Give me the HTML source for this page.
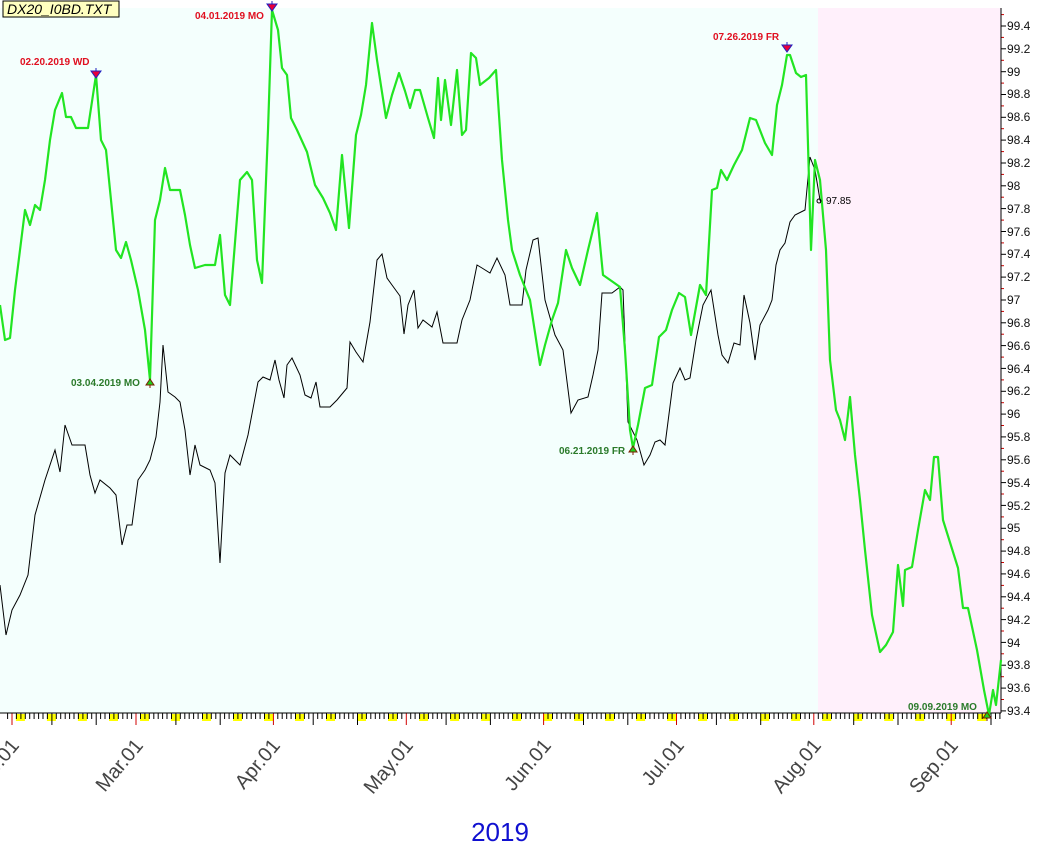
<!DOCTYPE html>
<html><head><meta charset="utf-8"><style>
html,body{margin:0;padding:0;background:#fff;width:1063px;height:849px;overflow:hidden}
svg{display:block;font-family:"Liberation Sans",sans-serif}
</style></head><body>
<svg id="s" width="1063" height="849" xmlns="http://www.w3.org/2000/svg">
<rect x="0" y="8" width="818" height="705" fill="#f4fffd"/>
<rect x="818" y="8" width="183" height="705" fill="#fff0fb"/>
<g id="ticks"></g>
<line x1="1001" y1="8" x2="1001" y2="713" stroke="#000"/>
<line x1="0" y1="713" x2="1001" y2="713" stroke="#000"/>
<polyline fill="none" stroke="#000" stroke-width="1" points="0,585 6,635 12,610 20,595 28,575 35,515 45,480 55,450 60,472 65,425 72,445 85,445 90,475 95,493 100,480 110,488 116,495 122,545 127,525 132,525 138,480 145,470 150,460 156,437 160,402 163,345 168,392 175,397 180,402 185,430 190,475 195,445 200,465 210,470 215,483 220,563 225,473 230,455 240,465 248,435 258,382 263,377 270,380 275,360 279,380 284,398 287,365 292,358 300,375 305,395 311,398 316,382 320,407 330,407 337,400 347,388 350,342 356,352 363,362 370,322 377,260 382,254 387,278 392,285 400,296 404,334 408,305 414,290 418,328 423,320 432,327 437,312 443,343 457,343 462,320 470,300 477,265 482,268 490,273 497,258 505,275 510,305 522,305 526,270 533,240 538,238 545,300 555,335 563,350 571,413 578,400 588,397 593,375 598,350 602,293 612,293 620,287 623,290 628,422 637,440 644,465 650,455 655,442 660,440 665,445 673,383 680,368 685,380 690,378 696,340 703,305 711,290 718,335 722,355 728,363 734,343 740,345 744,295 750,323 755,360 760,325 768,310 772,300 776,265 780,250 785,243 790,222 795,215 805,210 810,157 815,170 820,200 822,205"/>
<polyline fill="none" stroke="#22e522" stroke-width="2.2" stroke-linejoin="round" points="0,305 5,340 10,338 15,290 20,250 25,210 30,225 35,205 40,210 45,180 50,140 55,110 62,93 66,117 71,117 76,128 88,128 96,75 101,140 106,150 111,200 116,250 121,258 126,242 131,260 138,290 145,330 150,380 155,220 160,200 165,168 170,190 180,190 185,215 190,245 195,268 205,265 215,265 220,235 225,295 230,305 240,180 247,172 252,180 257,260 262,283 268,130 272,10 278,30 282,68 287,75 291,118 297,130 307,152 315,185 323,198 330,213 336,230 342,155 349,228 356,135 361,115 366,85 372,23 377,60 386,118 392,95 399,73 405,91 410,108 415,90 420,90 428,118 434,138 438,78 441,120 445,80 451,125 457,70 462,135 466,130 471,53 476,58 480,85 489,78 496,70 502,160 508,220 512,250 520,275 530,300 540,365 545,345 552,320 558,303 566,250 572,268 580,285 588,250 597,213 603,275 613,282 620,287 625,350 630,430 633,448 638,425 645,388 652,385 659,337 666,330 672,310 679,293 685,297 691,335 700,285 706,295 712,190 717,188 721,170 727,180 734,165 742,150 750,118 756,120 765,143 772,155 777,105 782,85 787,55 790,55 796,73 801,77 806,75 811,250 815,160 820,180 826,250 830,360 836,410 840,420 845,440 850,397 855,455 860,500 865,550 872,615 880,652 886,645 893,632 898,565 903,606 905,570 912,567 918,530 925,490 930,500 934,457 938,457 943,520 958,568 963,608 968,608 977,650 984,690 989,715 993,690 996,705 1001,660"/>
<circle cx="819" cy="201" r="2" fill="none" stroke="#000"/>
<text x="826" y="204" font-size="10" fill="#000">97.85</text>
<g fill="#e8003a" stroke="#2020c0" stroke-width="1">
<path d="M96,68 v3 M91,71 h10 l-5,7 z"/><path d="M272,1 v3 M267,4 h10 l-5,7 z"/><path d="M787,42 v3 M782,45 h10 l-5,7 z"/>
</g>
<g fill="#1fd01f" stroke="#7a2000" stroke-width="1">
<path d="M150,379 l-4,6 h8 z M150,385 v3"/><path d="M633,446 l-4,6 h8 z M633,452 v3"/><path d="M987,712 l-4,6 h8 z M987,718 v3"/>
</g>
<g font-size="10" font-weight="bold">
<text x="20" y="65" fill="#e01020">02.20.2019 WD</text>
<text x="195" y="19" fill="#e01020">04.01.2019 MO</text>
<text x="713" y="40" fill="#e01020">07.26.2019 FR</text>
<text x="71" y="386" fill="#2a7a2a">03.04.2019 MO</text>
<text x="559" y="454" fill="#2a7a2a">06.21.2019 FR</text>
<text x="908" y="710" fill="#2a7a2a">09.09.2019 MO</text>
</g>
<g font-size="12" fill="#111">
<text x="1007" y="30">99.4</text><text x="1007" y="53">99.2</text><text x="1007" y="76">99</text><text x="1007" y="98">98.8</text><text x="1007" y="121">98.6</text><text x="1007" y="144">98.4</text><text x="1007" y="167">98.2</text><text x="1007" y="190">98</text><text x="1007" y="213">97.8</text><text x="1007" y="236">97.6</text><text x="1007" y="258">97.4</text><text x="1007" y="281">97.2</text><text x="1007" y="304">97</text><text x="1007" y="327">96.8</text><text x="1007" y="350">96.6</text><text x="1007" y="373">96.4</text><text x="1007" y="395">96.2</text><text x="1007" y="418">96</text><text x="1007" y="441">95.8</text><text x="1007" y="464">95.6</text><text x="1007" y="487">95.4</text><text x="1007" y="510">95.2</text><text x="1007" y="532">95</text><text x="1007" y="555">94.8</text><text x="1007" y="578">94.6</text><text x="1007" y="601">94.4</text><text x="1007" y="624">94.2</text><text x="1007" y="647">94</text><text x="1007" y="669">93.8</text><text x="1007" y="692">93.6</text><text x="1007" y="715">93.4</text>
</g>
<g font-size="20" fill="#444" text-anchor="end">
<text transform="translate(20,746) rotate(-50)">Feb.01</text>
<text transform="translate(144,746) rotate(-50)">Mar.01</text>
<text transform="translate(281,746) rotate(-50)">Apr.01</text>
<text transform="translate(414,746) rotate(-50)">May.01</text>
<text transform="translate(552,746) rotate(-50)">Jun.01</text>
<text transform="translate(685,746) rotate(-50)">Jul.01</text>
<text transform="translate(822,746) rotate(-50)">Aug.01</text>
<text transform="translate(959,746) rotate(-50)">Sep.01</text>
</g>
<text x="500" y="841" font-size="26" fill="#1010d0" text-anchor="middle">2019</text>
<rect x="3" y="1" width="116" height="16" fill="#ffffc0" stroke="#000"/>
<text x="7" y="14" font-size="14" font-style="italic" fill="#000">DX20_I0BD.TXT</text>
</svg>
<script>
var g=document.getElementById('ticks'),h='';
for(var d=-1;d<224;d++){var x=12+4.43*d;if(x<0||x>1000)continue;
var dt=new Date(2019,1,1+d);var wd=dt.getDay();var dd=dt.getDate();
if(wd==6)h+='<rect x="'+(x-0.5).toFixed(1)+'" y="714" width="9" height="7" fill="#ffff00"/>';
var len=6,col='#000';if(dd==1){len=12;col='#d00000'}else if(dd==10||dd==20)len=12;
h+='<line x1="'+x.toFixed(1)+'" y1="713" x2="'+x.toFixed(1)+'" y2="'+(713+len)+'" stroke="'+col+'"/>';}
for(var i=0;i<=30;i++){var y=26+i*22.83-11.4;if(y>8)h+='<line x1="1001" y1="'+y.toFixed(1)+'" x2="1004" y2="'+y.toFixed(1)+'" stroke="#c00"/>';
var y2=26+i*22.83;h+='<line x1="1001" y1="'+y2.toFixed(1)+'" x2="1006" y2="'+y2.toFixed(1)+'" stroke="#000"/>';}
g.innerHTML=h;
</script>
</body></html>
